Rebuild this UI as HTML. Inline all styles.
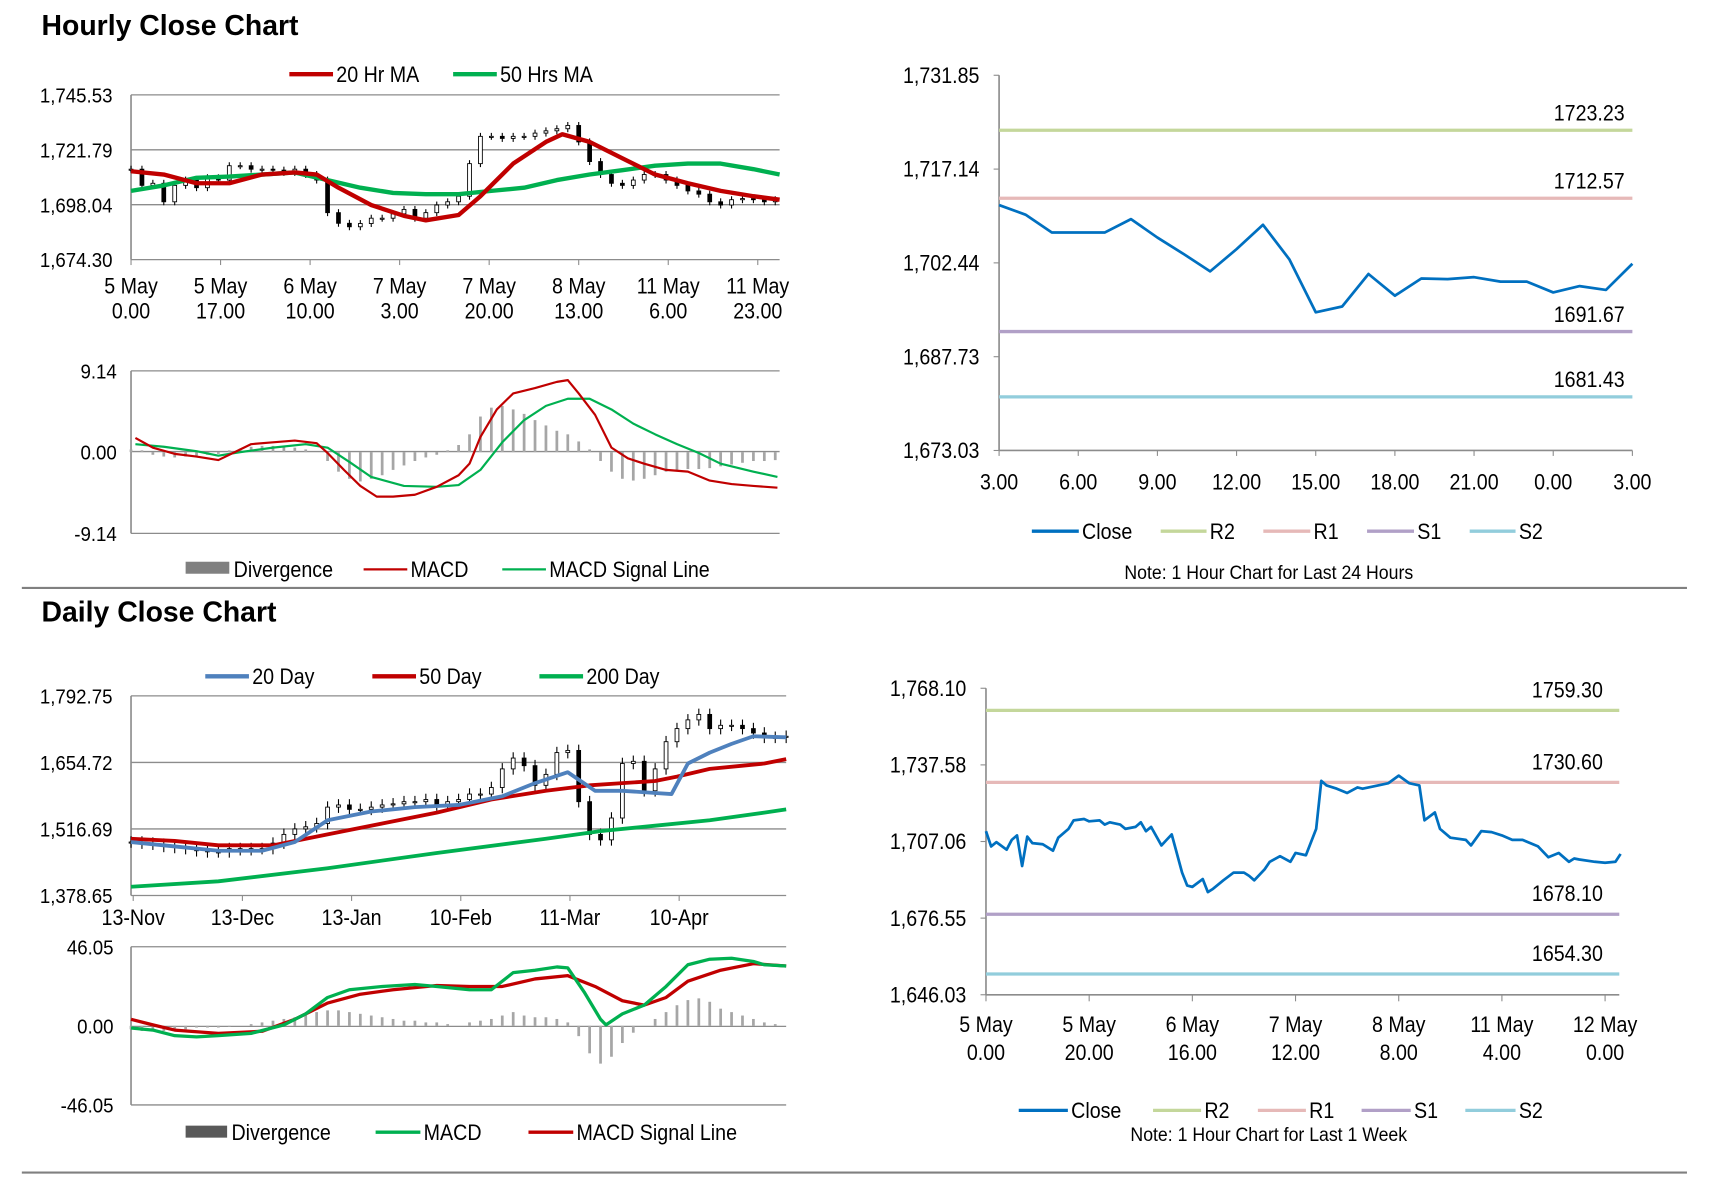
<!DOCTYPE html>
<html><head><meta charset="utf-8"><style>
html,body{margin:0;padding:0;background:#fff;}
svg{display:block;font-family:"Liberation Sans Narrow","Liberation Sans",sans-serif;}
</style></head><body>
<svg id="root" width="1711" height="1178" viewBox="0 0 1567 1080" preserveAspectRatio="none" xmlns="http://www.w3.org/2000/svg">
<rect width="1600" height="1100" fill="#fff"/>
<text x="38" y="32" font-family="Liberation Sans" font-weight="bold" font-size="26">Hourly Close Chart</text>
<text x="38" y="570" font-family="Liberation Sans" font-weight="bold" font-size="26">Daily Close Chart</text>
<line x1="20" y1="539" x2="1545" y2="539" stroke="#808080" stroke-width="2"/>
<line x1="20" y1="1075" x2="1545" y2="1075" stroke="#808080" stroke-width="2"/>
<g id="charts"></g>
</svg>
<script>
// ---------- Hourly price chart data (x = index, 1 unit = 2 hours) ----------
const hCloses=[1713.4,1706.4,1707.3,1699.3,1706.4,1708.7,1705.4,1709.7,1708.7,1714.9,1714.9,1713.4,1713.4,1713.0,1712.0,1713.4,1711.1,1708.7,1694.6,1690.0,1688.5,1689.9,1692.2,1692.2,1694.1,1696.0,1692.2,1694.6,1697.9,1699.3,1701.7,1715.8,1727.6,1727.6,1726.7,1727.6,1727.6,1729.0,1730.0,1730.9,1732.3,1725.2,1716.7,1711.1,1707.3,1706.4,1708.7,1711.1,1711.1,1708.7,1706.4,1704.0,1702.6,1699.3,1697.9,1700.2,1700.7,1700.2,1699.3,1700.2];
const hMa20X=[0,3,6,9,12,15,17,19,22,25,27,30,32,35,38,39.5,42,45,48,51,54,57,59.4];
const hMa20=[1712.5,1711.1,1707.3,1707.3,1711.1,1712.0,1711.1,1705.4,1697.9,1693.2,1691.3,1693.6,1701.7,1715.8,1725.2,1728.5,1725.2,1718.1,1711.1,1707.3,1704.0,1701.7,1700.2];
const hMa50X=[0,3,6,9,12,15,18,21,24,27,30,33,36,39,42,45,48,51,54,57,59.4];
const hMa50=[1704.0,1706.4,1709.7,1710.2,1711.1,1712.0,1708.7,1705.4,1703.1,1702.6,1702.6,1704.0,1705.4,1708.7,1711.1,1713.0,1714.9,1715.8,1715.8,1713.4,1711.1];
const hYTicks=[1674.30,1698.04,1721.79,1745.53];
const hYLabels=["1,674.30","1,698.04","1,721.79","1,745.53"];
const hXTicks=[0,8.2,16.4,24.6,32.8,41,49.2,57.4];
const hXLabels=[["5 May","0.00"],["5 May","17.00"],["6 May","10.00"],["7 May","3.00"],["7 May","20.00"],["8 May","13.00"],["11 May","6.00"],["11 May","23.00"]];
// ---------- Hourly MACD ----------
const hMacdX=[0.4,2,4,6,8,9.5,11,13,15,17,18,19.5,21,22.5,24,26,28,30,31,32,33.5,35,37,39,40,41,42.5,44,45.5,47,49,51,53,55,57,59.2];
const hMacd=[1.6,0.5,-0.2,-0.5,-0.9,0,0.9,1.1,1.3,1.0,-0.1,-2.0,-3.8,-5.0,-5.0,-4.8,-3.9,-2.6,-1.3,1.7,4.8,6.6,7.2,7.9,8.1,6.6,4.2,0.5,-0.7,-1.3,-2.0,-2.2,-3.2,-3.6,-3.8,-4.0];
const hSigX=[0.4,3,6,8,10,13,16,18,20,22,25,28,30,32,34,36,38,40,42,44,46,48,50,52,54,57,59.2];
const hSig=[0.9,0.6,0.1,-0.4,0,0.5,0.9,0.5,-1.1,-2.8,-3.8,-3.9,-3.7,-2.0,1.1,3.6,5.2,6.0,6.0,4.8,3.2,2.0,0.9,-0.1,-1.3,-2.2,-2.8];
const hDiv=[0.3,0.2,-0.3,-0.5,-0.6,-0.5,-0.4,-0.3,-0.2,0.2,0.4,0.6,0.7,0.7,0.6,0.5,0.3,0,-1.0,-2.2,-3.0,-3.3,-3.0,-2.6,-2.0,-1.5,-1.0,-0.6,-0.3,0.2,0.8,2.0,4.0,5.0,5.2,4.8,4.3,3.6,3.0,2.4,2.0,1.2,0.3,-1.0,-2.2,-3.0,-3.2,-3.0,-2.6,-2.2,-2.0,-1.9,-1.9,-1.8,-1.6,-1.4,-1.2,-1.0,-1.0,-0.9];
// ---------- 24h chart ----------
const dayHours=[0,1,2,3,4,5,6,7,8,9,10,11,12,13,14,15,16,17,18,19,20,21,22,23,24];
const dayClose=[1711.5,1710.0,1707.2,1707.2,1707.2,1709.3,1706.4,1703.8,1701.1,1704.6,1708.4,1703.0,1694.7,1695.6,1700.7,1697.3,1700.0,1699.9,1700.2,1699.5,1699.5,1697.8,1698.8,1698.2,1702.3];
const dayLevels=[1723.23,1712.57,1691.67,1681.43];
const dayYTicks=[1673.03,1687.73,1702.44,1717.14,1731.85];
const dayXLabels=["3.00","6.00","9.00","12.00","15.00","18.00","21.00","0.00","3.00"];
// ---------- Daily price chart (x = index, 1 unit ≈ 2 days) ----------
const dCloses=[1489.6,1487.3,1485.1,1480.5,1478.3,1476.0,1471.5,1469.2,1469.2,1476.0,1473.7,1476.0,1476.0,1487.3,1505.4,1516.7,1521.2,1528.0,1562.0,1566.5,1557.4,1557.4,1562.0,1566.5,1568.8,1573.3,1573.3,1577.8,1566.5,1573.3,1577.8,1589.1,1589.1,1602.7,1641.3,1663.8,1648.0,1607.2,1629.9,1675.1,1679.6,1573.3,1505.4,1494.1,1539.4,1652.5,1657.0,1595.9,1641.3,1697.7,1724.9,1743.0,1754.3,1724.9,1731.7,1731.7,1724.9,1715.8,1706.8,1706.8,1709.0];
const d20X=[0,4,8,12,15,18,22,26,30,34,37,40,42.5,45,48,49.5,51,53,55,57,60];
const d20=[1489.6,1480.5,1471.5,1471.5,1489.6,1534.8,1552.9,1562.0,1566.5,1584.6,1611.7,1634.4,1595.9,1595.9,1591.4,1589.1,1652.5,1675.1,1693.2,1709.0,1706.8];
const d50X=[0,4,8,13,18,23,28,33,38,42,45,48,50,53,56,58,60];
const d50=[1496.4,1491.8,1482.8,1482.8,1505.4,1528.0,1550.7,1577.8,1595.9,1607.2,1611.7,1616.3,1625.3,1641.3,1648.0,1652.5,1661.5];
const d200X=[0,8,18,28,38,43,48,53,58,60];
const d200=[1396.8,1408.1,1435.3,1467.0,1496.4,1512.2,1523.5,1534.8,1550.7,1557.4];
const dYTicks=[1378.65,1516.69,1654.72,1792.75];
const dYLabels=["1,378.65","1,516.69","1,654.72","1,792.75"];
const dXTicks=[0.2,10.2,20.2,30.2,40.2,50.2];
const dXLabels=["13-Nov","13-Dec","13-Jan","10-Feb","11-Mar","10-Apr"];
// ---------- Daily MACD ----------
const dMacdX=[0,2,4,6,8,11,14,16,18,20,23,26,28,31,33,35,37,39,40,41.5,43,43.5,45,47,49,51,53,55,57,58,60];
const dMacd=[-1.3,-2.5,-5.7,-6.4,-5.7,-4.4,0.6,7.0,16.5,21,22.9,24.1,22.9,21,21,31,32.4,34.3,33.7,19.7,3.8,0.6,7.0,12.1,22.9,35.6,38.8,39.4,37.5,35.6,34.9];
const dSigX=[0,2,4,8,12,15,18,21,24,28,31,34,37,40,42.5,45,47,49,51,54,57,60];
const dSig=[3.8,0.6,-2.5,-4.4,-3.2,3.8,13.3,18.4,21,23.5,22.9,22.9,27.3,29.2,22.9,14.6,12.1,16.5,26,32.4,36.2,34.9];
const dDiv=[-2,-3,-3,-3,-2,-2,-1,-1,-1,-0.5,0,1,2,3,4,5,7,8,9,9,8,7,6,5,4,3,3,2,2,1,0,2,3,4,6,8,6,5,5,4,2,-6,-16,-22,-18,-10,-4,0,4,8,12,15,16,14,10,8,6,4,2,1,0];
// ---------- Week chart ----------
const wkHours=[0,1,2,4,5,6,7,8,9,11,13,14,16,17,19,20,22,23,24,26,27,29,30,31,32,34,35,36,38,39,40,42,43,44,46,48,50,51,52,54,55,57,59,60,62,64,65,66,68,70,72,73,76,78,80,82,84,85,87,88,90,93,94,96,98,100,102,104,107,109,111,113,114,115,118,120,122,123];
const wkClose=[1711.2,1705.1,1706.8,1703.8,1707.7,1709.5,1697.3,1709.0,1706.4,1706.0,1703.4,1708.6,1712.1,1715.5,1716.0,1715.1,1715.5,1713.8,1714.7,1713.8,1712.1,1712.9,1714.7,1711.2,1712.9,1705.5,1707.7,1709.9,1694.7,1689.5,1689.0,1692.1,1686.9,1688.2,1691.6,1694.7,1694.7,1693.4,1691.6,1696.0,1699.0,1701.2,1699.0,1702.5,1701.6,1712.1,1731.2,1729.4,1728.1,1726.4,1728.6,1728.1,1729.4,1730.3,1733.3,1730.3,1729.4,1715.5,1718.6,1712.1,1708.6,1707.7,1705.5,1711.2,1710.8,1709.5,1707.7,1707.7,1705.1,1700.8,1702.5,1699.0,1700.3,1699.9,1699.0,1698.6,1699.0,1702.1];
const wkLevels=[1759.30,1730.60,1678.10,1654.30];
const wkYTicks=[1646.03,1676.55,1707.06,1737.58,1768.10];
const wkXTicks=[0,20,40,60,80,100,120];
const wkXLabels=[["5 May","0.00"],["5 May","20.00"],["6 May","16.00"],["7 May","12.00"],["8 May","8.00"],["11 May","4.00"],["12 May","0.00"]];

const NS="http://www.w3.org/2000/svg";
const root=document.getElementById('charts');
function el(tag,attrs,parent){const e=document.createElementNS(NS,tag);for(const k in attrs)e.setAttribute(k,attrs[k]);(parent||root).appendChild(e);return e;}
function lin(d0,d1,r0,r1){return v=>r0+(v-d0)/(d1-d0)*(r1-r0);}
function fmt(v){return v.toLocaleString('en-US',{minimumFractionDigits:2,maximumFractionDigits:2});}
function poly(xs,ys,X,Y,color,w,name){
  const p=el('polyline',{points:xs.map((x,i)=>X(x).toFixed(1)+','+Y(ys[i]).toFixed(1)).join(' '),fill:'none',stroke:color,'stroke-width':w,'stroke-linejoin':'round'});
  
  
  return p;
}
function txt(x,y,s,size,anchor,name,fill){
  const t=el('text',{x:x,y:y,'font-size':size,'text-anchor':anchor||'start',fill:fill||'#000'});
  t.textContent=s;
  
  
  try{const L=t.getComputedTextLength();if(L>0){t.setAttribute('textLength',(L*0.9).toFixed(1));t.setAttribute('lengthAdjust','spacingAndGlyphs');}}catch(e){}
  return t;
}
function legLine(x1,x2,y,color,w,label,name){
  const l=el('line',{x1:x1,y1:y,x2:x2,y2:y,stroke:color,'stroke-width':w});
  
  
  txt(x2+3,y+7,label,20,'start',name);
}
function frame(x0,x1,y0,y1,gridYs,name){
  gridYs.forEach(y=>{const g=el('line',{x1:x0,y1:y,x2:x1,y2:y,stroke:'#8c8c8c','stroke-width':1.2});
    
    });
  const a=el('line',{x1:x0,y1:y0,x2:x0,y2:y1,stroke:'#8c8c8c','stroke-width':1.5});
  
  
}
function candles(closes,X,Y,wick,bw,name){
  closes.forEach((c,i)=>{
    const o=i?closes[i-1]:c;const hi=Math.max(o,c)+wick,lo=Math.min(o,c)-wick;const x=X(i);
    const w=el('line',{x1:x,y1:Y(hi),x2:x,y2:Y(lo),stroke:'#000','stroke-width':1});
    
    
    const top=Y(Math.max(o,c)),bot=Y(Math.min(o,c));
    const r=el('rect',{x:x-bw/2,y:top,width:bw,height:Math.max(1,bot-top),fill:c>=o?'#fff':'#000',stroke:'#000','stroke-width':0.8});
    
    
  });
}
function bars(vals,X,Y,w,name){
  vals.forEach((v,i)=>{const y0=Y(0),y1=Y(v);
    const b=el('rect',{x:X(i)-w/2,y:Math.min(y0,y1),width:w,height:Math.abs(y1-y0),fill:'#a6a6a6'});
    
    });
}

// ===== Hourly price =====
{const X=lin(0,59.4,120,714),Y=lin(1674.30,1745.53,238,87);
 frame(120,714,87,238,hYTicks.map(Y),'hourly-price');
 hYTicks.forEach((v,i)=>txt(103,Y(v)+7,hYLabels[i],19,'end','hourly-y-tick-label'));
 hXTicks.forEach((t,i)=>{const x=X(t);const k=el('line',{x1:x,y1:238,x2:x,y2:243,stroke:'#8c8c8c'});
   
   
   txt(x,269,hXLabels[i][0],20,'middle','hourly-x-tick-label');txt(x,292,hXLabels[i][1],20,'middle','hourly-x-tick-label');});
 candles(hCloses,X,Y,1.5,3.5,'hourly');
 poly(hMa50X,hMa50,X,Y,'#00b050',4,'hourly-50ma-line');
 poly(hMa20X,hMa20,X,Y,'#c00000',4,'hourly-20ma-line');
 legLine(265,305,68,'#c00000',4,'20 Hr MA','legend-20hr-ma');
 legLine(415,455,68,'#00b050',4,'50 Hrs MA','legend-50hrs-ma');
}
// ===== Hourly MACD =====
{const X=lin(0,59.4,120,714),Y=lin(-9.14,9.14,489,340);
 frame(120,714,340,489,[340,414,489],'hourly-macd');
 [9.14,0,-9.14].forEach(v=>txt(107,Y(v)+7,fmt(v),19,'end','hourly-macd-y-tick-label'));
 bars(hDiv,X,Y,2.5,'hourly-divergence-bar');
 poly(hSigX,hSig,X,Y,'#00b050',2,'hourly-macd-signal-line');
 poly(hMacdX,hMacd,X,Y,'#c00000',2,'hourly-macd-line');
 const r=el('rect',{x:170,y:515,width:40,height:11,fill:'#808080'});
 
 
 txt(214,529,'Divergence',20,'start','legend-divergence');
 legLine(333,373,522,'#c00000',2,'MACD','legend-macd');
 legLine(460,500,522,'#00b050',2,'MACD Signal Line','legend-macd-signal');
}
// ===== 24h close =====
{const X=lin(0,24,915,1495),Y=lin(1673.03,1731.85,413,69);
 frame(915,1495,69,413,[],'day-close');
 const ax=el('line',{x1:915,y1:413,x2:1495,y2:413,stroke:'#8c8c8c','stroke-width':1.5});
 
 
 dayYTicks.forEach(v=>{const y=Y(v);const k=el('line',{x1:910,y1:y,x2:915,y2:y,stroke:'#8c8c8c'});
   
   
   txt(897,y+7,fmt(v),20,'end','day-close-y-tick-label');});
 dayXLabels.forEach((s,i)=>{const x=X(i*3);const k=el('line',{x1:x,y1:413,x2:x,y2:418,stroke:'#8c8c8c'});
   
   
   txt(x,449,s,20,'middle','day-close-x-tick-label');});
 const cols=['#c4d79b','#e6b9b8','#b1a0c7','#92cddc'],nm=['r2','r1','s1','s2'];
 dayLevels.forEach((v,i)=>{const y=Y(v);const l=el('line',{x1:915,y1:y,x2:1495,y2:y,stroke:cols[i],'stroke-width':3});
   
   
   txt(1488,y-9,v.toFixed(2),20,'end','day-'+nm[i]+'-label');});
 poly(dayHours,dayClose,X,Y,'#0070c0',2.5,'day-close-line');
 legLine(945,988,487,'#0070c0',3,'Close','legend-day-close');
 legLine(1063,1105,487,'#c4d79b',3,'R2','legend-day-r2');
 legLine(1157,1200,487,'#e6b9b8',3,'R1','legend-day-r1');
 legLine(1252,1295,487,'#b1a0c7',3,'S1','legend-day-s1');
 legLine(1346,1388,487,'#92cddc',3,'S2','legend-day-s2');
 txt(1162,531,'Note: 1 Hour Chart for Last 24 Hours',18,'middle','day-note');
}
// ===== Daily price =====
{const X=lin(0,60,120,720),Y=lin(1378.65,1792.75,821,638);
 frame(120,720,638,821,dYTicks.map(Y),'daily-price');
 dYTicks.forEach((v,i)=>txt(103,Y(v)+7,dYLabels[i],19,'end','daily-y-tick-label'));
 dXTicks.forEach((t,i)=>{const x=X(t);const k=el('line',{x1:x,y1:821,x2:x,y2:826,stroke:'#8c8c8c'});
   
   
   txt(x,848,dXLabels[i],20,'middle','daily-x-tick-label');});
 candles(dCloses,X,Y,12,3.5,'daily');
 poly(d200X,d200,X,Y,'#00b050',3.5,'daily-200d-line');
 poly(d50X,d50,X,Y,'#c00000',3.5,'daily-50d-line');
 poly(d20X,d20,X,Y,'#4f81bd',3.5,'daily-20d-line');
 legLine(188,228,620,'#4f81bd',4,'20 Day','legend-20-day');
 legLine(341,381,620,'#c00000',4,'50 Day','legend-50-day');
 legLine(494,534,620,'#00b050',4,'200 Day','legend-200-day');
}
// ===== Daily MACD =====
{const X=lin(0,60,120,720),Y=lin(-46.05,46.05,1013,868);
 frame(120,720,868,1013,[868,941,1013],'daily-macd');
 [46.05,0,-46.05].forEach(v=>txt(104,Y(v)+7,fmt(v),19,'end','daily-macd-y-tick-label'));
 bars(dDiv,X,Y,2.5,'daily-divergence-bar');
 poly(dSigX,dSig,X,Y,'#c00000',3,'daily-macd-signal-line');
 poly(dMacdX,dMacd,X,Y,'#00b050',3,'daily-macd-line');
 const r=el('rect',{x:170,y:1032,width:38,height:11,fill:'#595959'});
 
 
 txt(212,1045,'Divergence',20,'start','legend-daily-divergence');
 legLine(344,385,1038,'#00b050',3,'MACD','legend-daily-macd');
 legLine(484,525,1038,'#c00000',3,'MACD Signal Line','legend-daily-macd-signal');
}
// ===== Week close =====
{const X=lin(0,122.75,903,1483),Y=lin(1646.03,1768.10,912,631);
 frame(903,1483,631,912,[],'week-close');
 const ax=el('line',{x1:903,y1:912,x2:1483,y2:912,stroke:'#8c8c8c','stroke-width':1.5});
 
 
 wkYTicks.forEach(v=>{const y=Y(v);const k=el('line',{x1:898,y1:y,x2:903,y2:y,stroke:'#8c8c8c'});
   
   
   txt(885,y+7,fmt(v),20,'end','week-close-y-tick-label');});
 wkXTicks.forEach((t,i)=>{const x=X(t);const k=el('line',{x1:x,y1:912,x2:x,y2:918,stroke:'#8c8c8c'});
   
   
   txt(x,946,wkXLabels[i][0],20,'middle','week-close-x-tick-label');txt(x,972,wkXLabels[i][1],20,'middle','week-close-x-tick-label');});
 const cols=['#c4d79b','#e6b9b8','#b1a0c7','#92cddc'],nm=['r2','r1','s1','s2'];
 wkLevels.forEach((v,i)=>{const y=Y(v);const l=el('line',{x1:903,y1:y,x2:1483,y2:y,stroke:cols[i],'stroke-width':3});
   
   
   txt(1468,y-12,v.toFixed(2),20,'end','week-'+nm[i]+'-label');});
 poly(wkHours,wkClose,X,Y,'#0070c0',2.5,'week-close-line');
 legLine(933,978,1018,'#0070c0',3,'Close','legend-week-close');
 legLine(1056,1100,1018,'#c4d79b',3,'R2','legend-week-r2');
 legLine(1152,1196,1018,'#e6b9b8',3,'R1','legend-week-r1');
 legLine(1247,1292,1018,'#b1a0c7',3,'S1','legend-week-s1');
 legLine(1342,1388,1018,'#92cddc',3,'S2','legend-week-s2');
 txt(1162,1046,'Note: 1 Hour Chart for Last 1 Week',18,'middle','week-note');
}
</script>
</body></html>
